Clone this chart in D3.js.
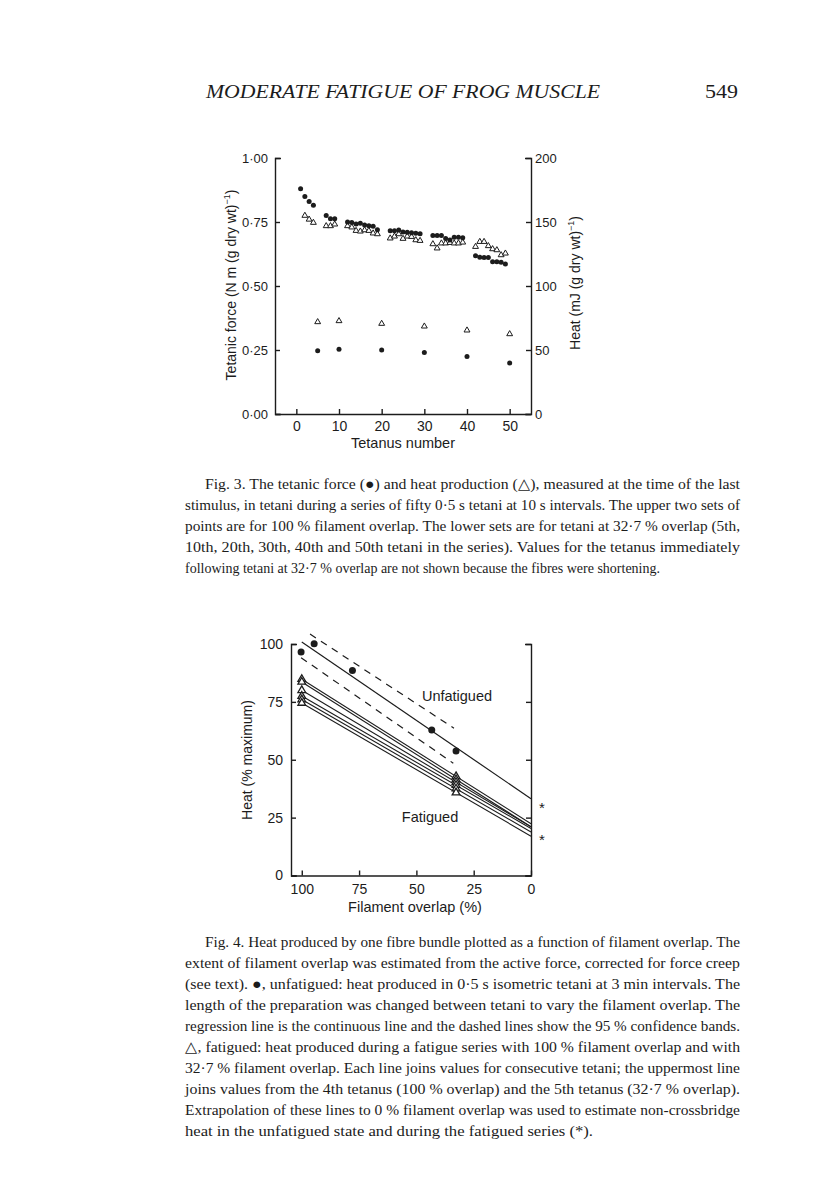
<!DOCTYPE html>
<html>
<head>
<meta charset="utf-8">
<script src="https://cdn.jsdelivr.net/npm/d3@7"></script>
<style>
  body { margin: 0; background: #fff; }
  svg { display: block; }
  .sans { font-family: "Liberation Sans", Arial, Helvetica, sans-serif; fill: #1c1c1c; }
  .serif { font-family: "Liberation Serif", "Times New Roman", serif; fill: #1c1c1c; }
  .axis path, .axis line { stroke: #1c1c1c; stroke-width: 1.4; fill: none; }
  .axis text { font-family: "Liberation Sans", Arial, sans-serif; font-size: 14px; fill: #1c1c1c; }
  .axis.small text { font-size: 13px; }
</style>
</head>
<body>
<svg id="page" width="816" height="1200"></svg>
<script>
// ---- Fig. 3 data: tetani at 100 % overlap (force N m (g dry wt)^-1, heat mJ (g dry wt)^-1)
const tetaniUpper = [1, 2, 3, 4, 7, 8, 9,
  12, 13, 14, 15, 16, 17, 18, 19,
  22, 23, 24, 25, 26, 27, 28, 29,
  32, 33, 34, 35, 36, 37, 38, 39,
  42, 43, 44, 45, 46, 47, 48, 49];
const forceUpper = [0.88, 0.85, 0.83, 0.815, 0.775, 0.763, 0.763,
  0.75, 0.748, 0.742, 0.745, 0.738, 0.735, 0.733, 0.72,
  0.716, 0.716, 0.719, 0.711, 0.71, 0.708, 0.706, 0.704,
  0.697, 0.697, 0.697, 0.686, 0.68, 0.69, 0.69, 0.688,
  0.618, 0.612, 0.611, 0.611, 0.595, 0.595, 0.593, 0.586];
const heatUpper = [null, 155, 152, 149.5, 146.9, 146.9, 148.2,
  146.9, 145.9, 143.2, 142.7, 143.7, 143.2, 141.2, 140.6,
  137.3, 138.8, 140.6, 137, 138.8, 138.5, 135.9, 135.4,
  132.8, 129.5, 133.4, 133.4, 133.8, 133.4, 133.4, 134.1,
  130.7, 134.6, 134.6, 131.3, 128.9, 128.1, 124.2, 125.5];

// tetani at 32.7 % overlap
const tetaniLower = [5, 10, 20, 30, 40, 50];
const forceLower = [0.247, 0.253, 0.25, 0.24, 0.225, 0.199];
const heatLower = [71.9, 72.7, 70.6, 68.5, 65.4, 62.5];

const fig3XTicks = [0, 10, 20, 30, 40, 50];
const fig3ForceTicks = [0, 0.25, 0.5, 0.75, 1];
const fig3HeatTicks = [0, 50, 100, 150, 200];

// ---- Fig. 4 data: heat (% maximum) vs filament overlap (%)
const overlapUnfatigued = [100.3, 94.6, 77.9, 43.3, 32.7];
const heatUnfatigued = [96.5, 100.1, 88.5, 62.9, 53.8];
const bandUpper = [[96.4, 104.3], [33.6, 63.6]];
const bandLower = [[100.3, 94.1], [33.9, 48.5]];

const fatiguedOverlap = [100, 32.7];
const heatFatigued100 = [84.8, 83.6, 80.0, 77.5, 76.0, 74.5];
const heatFatigued327 = [42.8, 41.5, 40.3, 39.0, 37.5, 35.8];
const asteriskHeat = [31, 17];

const fig4XTicks = [100, 75, 50, 25, 0];
const fig4YTicks = [0, 25, 50, 75, 100];

// ---- page text
const runningHead = "MODERATE FATIGUE OF FROG MUSCLE";
const pageNumber = "549";
const fig3Caption = [
  "Fig. 3. The tetanic force (\u25CF) and heat production (\u25B3), measured at the time of the last",
  "stimulus, in tetani during a series of fifty 0\u00B75 s tetani at 10 s intervals. The upper two sets of",
  "points are for 100 % filament overlap. The lower sets are for tetani at 32\u00B77 % overlap (5th,",
  "10th, 20th, 30th, 40th and 50th tetani in the series). Values for the tetanus immediately",
  "following tetani at 32\u00B77 % overlap are not shown because the fibres were shortening."
];
const fig4Caption = [
  "Fig. 4. Heat produced by one fibre bundle plotted as a function of filament overlap. The",
  "extent of filament overlap was estimated from the active force, corrected for force creep",
  "(see text). \u25CF, unfatigued: heat produced in 0\u00B75 s isometric tetani at 3 min intervals. The",
  "length of the preparation was changed between tetani to vary the filament overlap. The",
  "regression line is the continuous line and the dashed lines show the 95 % confidence bands.",
  "\u25B3, fatigued: heat produced during a fatigue series with 100 % filament overlap and with",
  "32\u00B77 % filament overlap. Each line joins values for consecutive tetani; the uppermost line",
  "joins values from the 4th tetanus (100 % overlap) and the 5th tetanus (32\u00B77 % overlap).",
  "Extrapolation of these lines to 0 % filament overlap was used to estimate non-crossbridge",
  "heat in the unfatigued state and during the fatigued series (*)."
];

const svg = d3.select("#page");
svg.append("rect").attr("width", 816).attr("height", 1200).attr("fill", "#fff");

// running head
svg.append("text").attr("class", "serif")
  .attr("x", 206).attr("y", 98)
  .style("font-size", "18.5px").style("font-style", "italic")
  .attr("textLength", 394).attr("lengthAdjust", "spacingAndGlyphs")
  .text(runningHead);
svg.append("text").attr("class", "serif")
  .attr("x", 705).attr("y", 98)
  .style("font-size", "18.5px")
  .attr("textLength", 33).attr("lengthAdjust", "spacingAndGlyphs")
  .text(pageNumber);

const dotFmt = d => d3.format(".2f")(d).replace(".", "\u00B7");

// ================= Fig. 3 =================
const x3 = d3.scaleLinear().domain([-5, 55]).range([275, 531]);
const yForce = d3.scaleLinear().domain([0, 1]).range([414, 158]);
const yHeat = d3.scaleLinear().domain([0, 200]).range([414, 158]);

svg.append("g").attr("class", "axis")
  .attr("transform", "translate(0," + yForce(0) + ")")
  .call(d3.axisBottom(x3).tickValues(fig3XTicks).tickSize(-5).tickSizeOuter(0).tickPadding(7));

svg.append("g").attr("class", "axis small")
  .attr("transform", "translate(" + x3(-5) + ",0)")
  .call(d3.axisLeft(yForce).tickValues(fig3ForceTicks).tickFormat(dotFmt)
    .tickSize(-5).tickSizeOuter(-6).tickPadding(7));

svg.append("g").attr("class", "axis small")
  .attr("transform", "translate(" + x3(55) + ",0)")
  .call(d3.axisRight(yHeat).tickValues(fig3HeatTicks)
    .tickSize(-5).tickSizeOuter(-6).tickPadding(4));

const upper = tetaniUpper.map((t, i) => ({t: t, force: forceUpper[i], heat: heatUpper[i]}));
const lower = tetaniLower.map((t, i) => ({t: t, force: forceLower[i], heat: heatLower[i]}));

const tri3 = d3.symbol(d3.symbolTriangle, 15);

svg.append("g")
  .selectAll("path")
  .data(upper.concat(lower).filter(d => d.heat != null))
  .enter().append("path")
  .attr("d", tri3)
  .attr("transform", d => "translate(" + x3(d.t) + "," + yHeat(d.heat) + ")")
  .attr("fill", "#fff")
  .attr("stroke", "#1c1c1c")
  .attr("stroke-width", 1);

svg.append("g")
  .selectAll("circle")
  .data(upper.concat(lower))
  .enter().append("circle")
  .attr("cx", d => x3(d.t))
  .attr("cy", d => yForce(d.force))
  .attr("r", 2.5)
  .attr("fill", "#1c1c1c");

svg.append("text").attr("class", "sans")
  .attr("x", 403).attr("y", 448)
  .attr("text-anchor", "middle").style("font-size", "14.5px")
  .text("Tetanus number");

const forceLabel = svg.append("text").attr("class", "sans")
  .attr("transform", "translate(236,285) rotate(-90)")
  .attr("text-anchor", "middle").style("font-size", "14px");
forceLabel.append("tspan").text("Tetanic force (N m (g dry wt)");
forceLabel.append("tspan").attr("dy", -6).style("font-size", "9px").text("\u22121");
forceLabel.append("tspan").attr("dy", 6).text(")");

const heatLabel = svg.append("text").attr("class", "sans")
  .attr("transform", "translate(580,283) rotate(-90)")
  .attr("text-anchor", "middle").style("font-size", "14px");
heatLabel.append("tspan").text("Heat (mJ (g dry wt)");
heatLabel.append("tspan").attr("dy", -6).style("font-size", "9px").text("\u22121");
heatLabel.append("tspan").attr("dy", 6).text(")");

// ================= Fig. 4 =================
const x4 = d3.scaleLinear().domain([104.7, 0]).range([291, 531]);
const y4 = d3.scaleLinear().domain([0, 100]).range([875.5, 644]);

svg.append("g").attr("class", "axis")
  .attr("transform", "translate(0," + y4(0) + ")")
  .call(d3.axisBottom(x4).tickValues(fig4XTicks).tickSize(-5).tickSizeOuter(0).tickPadding(9));

svg.append("g").attr("class", "axis")
  .attr("transform", "translate(" + x4(104.7) + ",0)")
  .call(d3.axisLeft(y4).tickValues(fig4YTicks).tickSize(-5).tickSizeOuter(-6).tickPadding(8));

svg.append("g").attr("class", "axis")
  .attr("transform", "translate(" + x4(0) + ",0)")
  .call(d3.axisRight(y4).tickValues(fig4YTicks).tickFormat("").tickSize(-5).tickSizeOuter(-6));

// least-squares regression through unfatigued points
const mx = d3.mean(overlapUnfatigued), my = d3.mean(heatUnfatigued);
const slope = d3.sum(overlapUnfatigued, (v, i) => (v - mx) * (heatUnfatigued[i] - my)) /
  d3.sum(overlapUnfatigued, v => (v - mx) * (v - mx));
const intercept = my - slope * mx;
const regress = v => intercept + slope * v;

const line4 = d3.line().x(d => x4(d[0])).y(d => y4(d[1]));

svg.append("path")
  .attr("d", line4([[100, regress(100)], [0, regress(0)]]))
  .attr("stroke", "#1c1c1c").attr("stroke-width", 1.2).attr("fill", "none");

svg.append("g")
  .selectAll("path")
  .data([bandUpper, bandLower])
  .enter().append("path")
  .attr("d", line4)
  .attr("stroke", "#1c1c1c").attr("stroke-width", 1.2)
  .attr("stroke-dasharray", "7,6").attr("fill", "none");

// fatigued lines, extrapolated to 0 % overlap
const fatigued = heatFatigued100.map((h, i) => {
  const h2 = heatFatigued327[i];
  const k = (h - h2) / (fatiguedOverlap[0] - fatiguedOverlap[1]);
  return {h100: h, h327: h2, h0: h2 - k * fatiguedOverlap[1]};
});

svg.append("g")
  .selectAll("path")
  .data(fatigued)
  .enter().append("path")
  .attr("d", d => line4([[fatiguedOverlap[0], d.h100], [0, d.h0]]))
  .attr("stroke", "#1c1c1c").attr("stroke-width", 1.1).attr("fill", "none");

const tri4 = d3.symbol(d3.symbolTriangle, 26);
const fatPoints = fatigued.flatMap(d => [[fatiguedOverlap[0], d.h100], [fatiguedOverlap[1], d.h327]]);

svg.append("g")
  .selectAll("path")
  .data(fatPoints)
  .enter().append("path")
  .attr("d", tri4)
  .attr("transform", d => "translate(" + x4(d[0]) + "," + y4(d[1]) + ")")
  .attr("fill", "#fff")
  .attr("stroke", "#1c1c1c")
  .attr("stroke-width", 1.3);

svg.append("g")
  .selectAll("circle")
  .data(overlapUnfatigued.map((v, i) => [v, heatUnfatigued[i]]))
  .enter().append("circle")
  .attr("cx", d => x4(d[0]))
  .attr("cy", d => y4(d[1]))
  .attr("r", 3.5)
  .attr("fill", "#1c1c1c");

svg.append("g")
  .selectAll("text")
  .data(asteriskHeat)
  .enter().append("text").attr("class", "sans")
  .attr("x", x4(0) + 11).attr("y", d => y4(d))
  .attr("dy", "0.6em").attr("text-anchor", "middle")
  .style("font-size", "15px")
  .text("*");

svg.append("text").attr("class", "sans")
  .attr("x", 457).attr("y", 701).attr("text-anchor", "middle")
  .style("font-size", "14.5px").text("Unfatigued");
svg.append("text").attr("class", "sans")
  .attr("x", 430).attr("y", 822).attr("text-anchor", "middle")
  .style("font-size", "14.5px").text("Fatigued");

svg.append("text").attr("class", "sans")
  .attr("x", 415).attr("y", 912).attr("text-anchor", "middle")
  .style("font-size", "14.5px").text("Filament overlap (%)");

svg.append("text").attr("class", "sans")
  .attr("transform", "translate(252,760) rotate(-90)")
  .attr("text-anchor", "middle").style("font-size", "14px")
  .text("Heat (% maximum)");

// ---- captions, justified to the text column
const caption = (lines, top, lastWidth) => {
  svg.append("g")
    .selectAll("text")
    .data(lines)
    .enter().append("text").attr("class", "serif")
    .attr("x", (d, i) => i === 0 ? 205 : 185)
    .attr("y", (d, i) => top + i * 21)
    .attr("textLength", (d, i) => i === lines.length - 1 ? lastWidth : (i === 0 ? 535 : 555))
    .attr("lengthAdjust", "spacingAndGlyphs")
    .style("font-size", "15px")
    .text(d => d);
};

caption(fig3Caption, 489, 475);
caption(fig4Caption, 947, 408);
</script>
</body>
</html>
